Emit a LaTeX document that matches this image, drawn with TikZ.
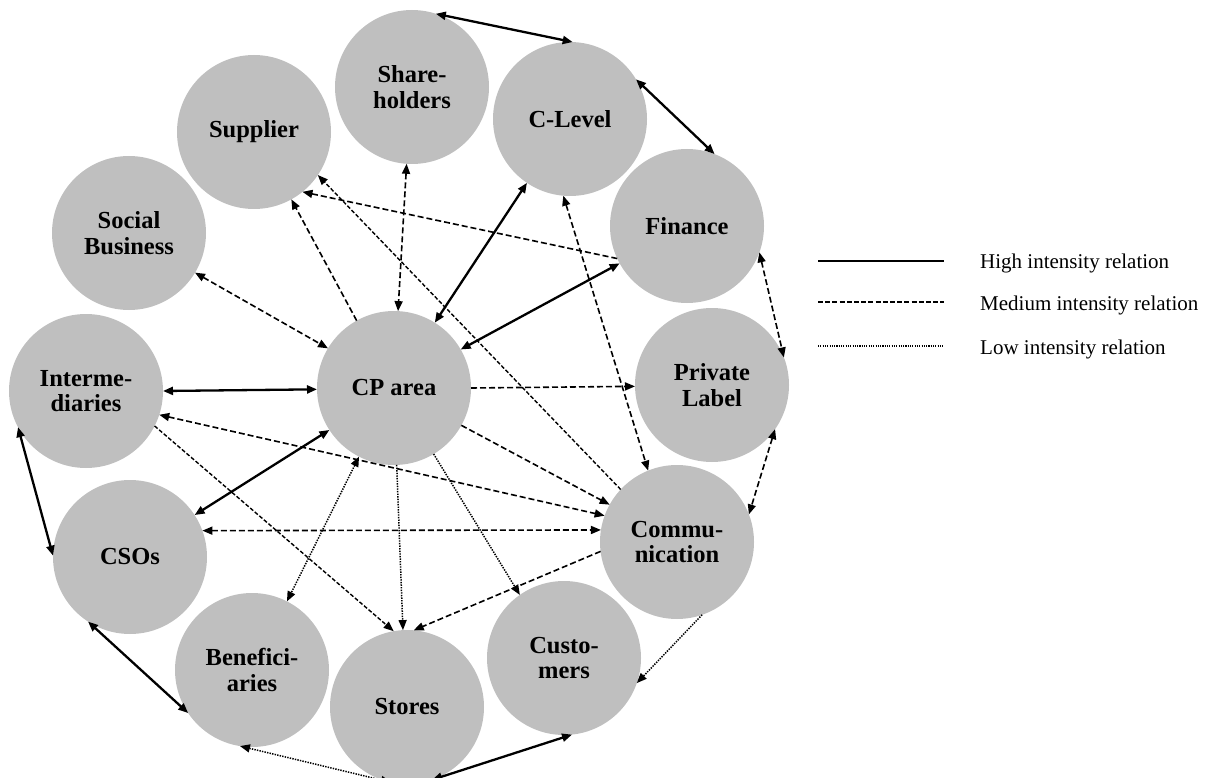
\documentclass[tikz,border=0pt]{standalone}
\usepackage{fontspec}
\setmainfont{Liberation Serif}
\usetikzlibrary{arrows.meta}
\definecolor{discgray}{RGB}{191,191,191}
\begin{document}
\begin{tikzpicture}[x=1pt,y=-1pt,
  >={Triangle[length=10pt,width=8pt]},
  actor/.style={circle, fill=discgray, minimum size=154pt, inner sep=0pt,
    outer sep=0pt, align=center,
    font=\bfseries\fontsize{24.5}{25.5}\selectfont},
  high/.style={line width=2.3pt, black},
  medium/.style={line width=1.6pt, black, dash pattern=on 6pt off 3pt},
  finemedium/.style={line width=1.4pt, black, dash pattern=on 4pt off 2pt},
  low/.style={line width=1.5pt, black, dash pattern=on 1.4pt off 1.2pt},
  legendtext/.style={anchor=base west, inner sep=0pt,
    font=\fontsize{21}{24}\selectfont}]
\useasboundingbox (0,0) rectangle (1213,778);

% actors
\node[actor] (Sh) at (412,87)  {Share-\\holders};
\node[actor] (CL) at (570,119) {C-Level};
\node[actor] (Su) at (254,132) {Supplier};
\node[actor] (Fi) at (687,226) {Finance};
\node[actor] (SB) at (129,233) {Social\\Business};
\node[actor] (CP) at (394,388) {CP area};
\node[actor] (PL) at (712,385) {Private\\Label};
\node[actor] (In) at (86,391)  {Interme-\\diaries};
\node[actor] (Co) at (677,542) {Commu-\\nication};
\node[actor] (CS) at (130,557) {CSOs};
\node[actor] (Be) at (252,670) {Benefici-\\aries};
\node[actor] (St) at (407,707) {Stores};
\node[actor] (Cu) at (564,658) {Custo-\\mers};

% high intensity relations
\draw[high,<->] (Sh.72.5) -- (CL.88.5);
\draw[high,<->] (CL.31) -- (Fi.69.6);
\draw[high,<->] (CP.58.2) -- (CL.236.5);
\draw[high,<->] (CP.30) -- (Fi.209.5);
\draw[high,<->] (In.0.5) -- (CP.181);
\draw[high,<->] (CS.33.3) -- (CP.213.3);
\draw[high,<->] (In.208) -- (CS.179);
\draw[high,<->] (CS.237) -- (Be.214);
\draw[high,<->] (St.289) -- (Cu.276);

% medium intensity relations
\draw[medium,<->] (SB.329.5) -- (CP.149.3);
\draw[medium,->] (CP.119) -- (Su.299);
\draw[medium,->] (Fi.205.5) -- (Su.309);
\draw[finemedium,->] (Co.137.6) -- (Su.326.5);
\draw[medium,<->] (Sh.266.5) -- (CP.87);
\draw[medium,<->] (CL.265) -- (Co.112);
\draw[medium,<->] (Fi.340) -- (PL.21.5);
\draw[medium,<->] (PL.325) -- (Co.21.5);
\draw[medium,->] (CP.0) -- (PL.181);
\draw[medium,->] (CP.331.5) -- (Co.151.6);
\draw[medium,<->] (In.342) -- (Co.160.2);
\draw[medium,<->] (CS.20.3) -- (Co.171.4);
\draw[finemedium,->] (In.333) -- (St.100.6);
\draw[medium,->] (Co.187.6) -- (St.85.6);

% low intensity relations
\draw[low,<->] (CP.243) -- (Be.63.4);
\draw[low,->] (CP.272) -- (St.93);
\draw[low,->] (CP.301) -- (Cu.125.3);
\draw[low,<->] (Be.261) -- (St.258);
\draw[low,->] (Co.289) -- (Cu.341);

% legend
\coordinate (hA) at (818,261); \coordinate (hB) at (944,261);
\coordinate (mA) at (818,302); \coordinate (mB) at (944,302);
\coordinate (lA) at (818,346); \coordinate (lB) at (944,346);
\draw[line width=2.6pt] (hA) -- (hB);
\draw[line width=1.4pt, dash pattern=on 5pt off 2.2pt] (mA) -- (mB);
\draw[line width=1.3pt, dash pattern=on 1.1pt off 1.2pt] (lA) -- (lB);
\node[legendtext] (hT) at (980,269) {High intensity relation};
\node[legendtext] (mT) at (980,310) {Medium intensity relation};
\node[legendtext] (lT) at (980,354) {Low intensity relation};
\end{tikzpicture}
\end{document}
